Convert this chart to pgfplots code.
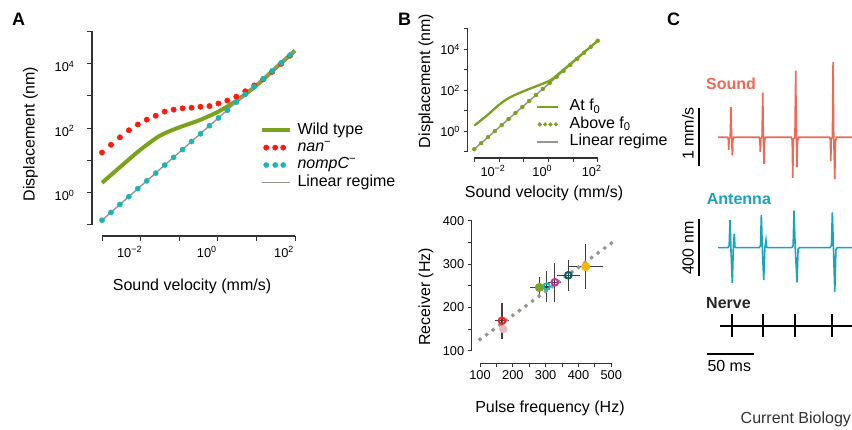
\documentclass[border=0pt]{standalone}
\usepackage{fontspec}
\setmainfont{Liberation Sans}
\setsansfont{Liberation Sans}
\usepackage{pgfplots}
\pgfplotsset{compat=1.18}
\definecolor{wtgreen}{HTML}{7BA21C}
\definecolor{nanred}{HTML}{FF1A0A}
\definecolor{nompcyan}{HTML}{1DB5B3}
\definecolor{lingray}{HTML}{9A948E}
\definecolor{spinec}{HTML}{333333}
\definecolor{soundc}{HTML}{EE6855}
\definecolor{antc}{HTML}{1AA3BE}
\definecolor{ebar}{HTML}{404040}
\definecolor{pred}{HTML}{FF1E1E}
\definecolor{ppink}{HTML}{EBB8C3}
\definecolor{pgreen}{HTML}{7DA320}
\definecolor{pcyan}{HTML}{1AB8C4}
\definecolor{pmag}{HTML}{C0339D}
\definecolor{pteal}{HTML}{0B5B6B}
\definecolor{porange}{HTML}{FFB400}
\newcommand{\lab}{\fontsize{16}{18}\selectfont}
\newcommand{\tck}{\fontsize{12.8}{14}\selectfont}

\pgfplotsset{
  panel/.style={
    scale only axis, axis lines=left, clip=false,
    x axis line style={-}, y axis line style={-},
    axis line style={spinec, line width=1.1pt},
    tick align=outside, major tick length=5pt,
    every tick/.style={spinec, line width=0.9pt},
    minor tick style={draw=none},
    tick label style={font=\tck},
    /pgf/number format/assume math mode=true,
  },
  trace/.style={scale only axis, hide axis, clip=false, xmin=-25, xmax=141.6},
}

\begin{document}
\begin{tikzpicture}[x=1pt,y=1pt]

% ---------- A ----------
\begin{axis}[panel, at={(102pt,205.25pt)}, anchor=south west, width=193pt, height=193.5pt,
  xmode=log, ymode=log, xmin=1e-3, xmax=100, ymin=0.1, ymax=1e5,
  axis x line shift=11.25pt, axis y line shift=10pt,
  xtick={1e-3,1e-2,1e-1,1,10,100},
  xticklabels={,10\textsuperscript{−2},,10\textsuperscript{0},,10\textsuperscript{2}},
  ytick={0.1,1,10,100,1000,10000,100000},
  yticklabels={,10\textsuperscript{0},,10\textsuperscript{2},,10\textsuperscript{4},},
  xticklabel style={xshift=-11pt, yshift=-2pt},
  yticklabel style={xshift=-9pt, yshift=-3pt},
  xlabel={Sound velocity (mm/s)}, ylabel={Displacement (nm)},
  every axis x label/.style={at={(axis description cs:0.5,0)}, anchor=center, xshift=-6.5pt, yshift=-61.25pt, font=\lab},
  every axis y label/.style={at={(axis description cs:0,0.5)}, anchor=center, xshift=-71.5pt, yshift=-6pt, rotate=90, font=\lab},
  legend style={at={(axis description cs:0.8187,0.531)}, anchor=north west, draw=none, fill=none,
    inner sep=0pt, row sep=1.4pt, column sep=5.3pt, font=\lab,
    nodes={inner sep=0pt, text height=12pt, text depth=4pt}, cells={anchor=west}},
]
\addlegendimage{legend image code/.code={\draw[wtgreen,line width=4pt] (0pt,0pt)--(28pt,0pt);}}
\addlegendentry{Wild type}
\addlegendimage{legend image code/.code={\foreach \d in {4,13,21} \fill[nanred] (\d pt,0pt) circle (2.7pt);}}
\addlegendentry{\textit{nan}\textsuperscript{−}}
\addlegendimage{legend image code/.code={\foreach \d in {4,13,21} \fill[nompcyan] (\d pt,0pt) circle (2.6pt);}}
\addlegendentry{\textit{nompC}\textsuperscript{−}}
\addlegendimage{legend image code/.code={\draw[lingray,line width=1.4pt] (0pt,0pt)--(28pt,0pt);}}
\addlegendentry{Linear regime}

\addplot[forget plot, only marks, mark=*, mark size=2.7pt, color=nanred] coordinates {
(1.000e-3,17.38) (1.706e-3,30.20) (2.911e-3,51.29) (4.966e-3,85.11) (8.472e-3,128.8)
(1.445e-2,182.0) (2.466e-2,239.9) (4.207e-2,323.6) (7.178e-2,371.5) (0.1225,407.4)
(0.2089,426.6) (0.3565,457.1) (0.6081,478.6) (1.038,575.4) (1.770,707.9) (3.020,933.3)
(5.152,1380) (8.790,2089) (15.00,3236) (25.59,5495) (43.65,9772) (74.47,17378)};
\addplot[forget plot, smooth, wtgreen, line width=4pt] coordinates {
(1e-3,1.995) (3.162e-3,6.607) (1e-2,21.38) (3.162e-2,57.54) (0.1,104.7) (0.3162,169.8)
(1,316.2) (3.162,724.4) (10,2089) (31.62,7244) (100,25119)};
\addplot[forget plot, lingray, line width=1.4pt] coordinates {(1e-3,0.138) (100,25119)};
\addplot[forget plot, only marks, mark=*, mark size=2.6pt, color=nompcyan] coordinates {
(1.000e-3,0.138) (1.706e-3,0.240) (2.911e-3,0.427) (4.966e-3,0.741) (8.472e-3,1.318)
(1.445e-2,2.291) (2.466e-2,3.981) (4.207e-2,7.079) (7.178e-2,12.30) (0.1225,21.38)
(0.2089,38.02) (0.3565,66.07) (0.6081,117.5) (1.038,204.2) (1.770,354.8) (3.020,631.0)
(5.152,1096) (8.790,1905) (15.00,3388) (25.59,5888) (43.65,10471) (74.47,18197)};
\end{axis}

% ---------- B top ----------
\begin{axis}[panel, at={(474.3pt,278.2pt)}, anchor=south west, width=123.4pt, height=122.85pt,
  xmode=log, ymode=log, xmin=1e-3, xmax=100, ymin=0.1, ymax=1e5,
  axis x line shift=6.2pt, axis y line shift=6.8pt, major tick length=4pt,
  xtick={1e-3,1e-2,1e-1,1,10,100},
  xticklabels={,10\textsuperscript{−2},,10\textsuperscript{0},,10\textsuperscript{2}},
  ytick={0.1,1,10,100,1000,10000,100000},
  yticklabels={,10\textsuperscript{0},,10\textsuperscript{2},,10\textsuperscript{4},},
  xticklabel style={xshift=-6pt},
  xlabel={Sound velocity (mm/s)}, ylabel={Displacement (nm)},
  every axis x label/.style={at={(axis description cs:0.5,0)}, anchor=center, xshift=8pt, yshift=-41.5pt, font=\lab},
  every axis y label/.style={at={(axis description cs:0,0.5)}, anchor=center, xshift=-48.3pt, yshift=9.4pt, rotate=90, font=\lab},
  legend style={at={(axis description cs:0.5,0.4322)}, anchor=north west, draw=none, fill=none,
    inner sep=0pt, row sep=1.5pt, column sep=10.3pt, font=\lab,
    nodes={inner sep=0pt, text height=12pt, text depth=4pt}, cells={anchor=west}},
]
\addlegendimage{legend image code/.code={\draw[wtgreen,line width=2.3pt] (0pt,0pt)--(20.7pt,0pt);}}
\addlegendentry{At f\textsubscript{0}}
\addlegendimage{legend image code/.code={\foreach \d in {2.3,7.7,13,18.4} \fill[wtgreen] (\d pt,0pt) circle (1.9pt);}}
\addlegendentry{Above f\textsubscript{0}}
\addlegendimage{legend image code/.code={\draw[lingray,line width=2.5pt] (0pt,0pt)--(20.7pt,0pt);}}
\addlegendentry{Linear regime}

\addplot[forget plot, lingray, line width=1.5pt] coordinates {(1e-3,0.1349) (100,26303)};
\addplot[forget plot, smooth, wtgreen, line width=2.3pt] coordinates {
(1e-3,1.905) (3.236e-3,5.888) (5.888e-3,11.22) (1.148e-2,22.39) (2.042e-2,36.31)
(3.981e-2,56.23) (0.1380,107.2) (0.4786,190.5) (1.202,309.0) (2.239,549.5)
(8.128,2042) (100,26303)};
\addplot[forget plot, only marks, mark=*, mark size=2pt, color=wtgreen] coordinates {
(1e-3,0.1349) (1.896e-3,0.2654) (3.594e-3,0.5222) (6.813e-3,1.027) (1.292e-2,2.021)
(2.448e-2,3.977) (4.642e-2,7.824) (8.799e-2,15.39) (0.1668,30.29) (0.3162,59.59)
(0.5995,117.2) (1.136,230.7) (2.154,453.8) (4.084,892.9) (7.743,1757) (14.68,3456)
(27.83,6800) (52.75,13379) (100,26303)};
\end{axis}

% ---------- B bottom ----------
\begin{axis}[panel, at={(480pt,79.3pt)}, anchor=south west, width=131.3pt, height=130pt,
  xmin=100, xmax=500, ymin=100, ymax=400,
  axis x line shift=12.6pt, axis y line shift=8.3pt, major tick length=4pt,
  xtick={100,150,...,500}, xticklabels={100,,200,,300,,400,,500},
  ytick={100,150,...,400}, yticklabels={100,,200,,300,,400},
  xlabel={Pulse frequency (Hz)}, ylabel={Receiver (Hz)},
  every axis x label/.style={at={(axis description cs:0.5,0)}, anchor=center, xshift=4.3pt, yshift=-57.8pt, font=\lab},
  every axis y label/.style={at={(axis description cs:0,0.5)}, anchor=center, xshift=-54pt, yshift=-11pt, rotate=90, font=\lab},
  error bars/error bar style={ebar, line width=1.2pt},
  error bars/error mark=none,
]
\addplot[only marks, mark=*, mark size=1.9pt, color=lingray] coordinates {
(100,126.0) (120,137.1) (140,148.2) (160,159.3) (180,170.4) (200,181.5) (220,192.6)
(240,203.7) (260,214.8) (280,225.9) (300,237.0) (320,248.1) (340,259.2) (360,270.3)
(380,281.4) (400,292.5) (420,303.6) (440,314.7) (460,325.8) (480,336.9) (500,348.0)};
\addplot[only marks, mark=*, mark size=4pt, color=ppink] coordinates {(171,150)};
\addplot[only marks, mark=o, mark size=3.3pt, color=pred, mark options={line width=2pt},
  error bars/.cd, x dir=both, x explicit, y dir=both, y explicit]
  coordinates {(167,169) +- (22,41)};
\addplot[only marks, mark=*, mark size=4.3pt, color=pgreen,
  error bars/.cd, x dir=both, x explicit, y dir=both, y explicit]
  coordinates {(281,246) +- (30,25)};
\addplot[only marks, mark=o, mark size=3.3pt, color=pcyan, mark options={line width=2pt},
  error bars/.cd, x dir=both, x explicit, y dir=both, y explicit]
  coordinates {(303,248) +- (20,35)};
\addplot[only marks, mark=o, mark size=3.3pt, color=pmag, mark options={line width=2pt},
  error bars/.cd, x dir=both, x explicit, y dir=both, y explicit]
  coordinates {(328,258) +- (20,45)};
\addplot[only marks, mark=o, mark size=3.3pt, color=pteal, mark options={line width=2pt},
  error bars/.cd, x dir=both, x explicit, y dir=both, y explicit]
  coordinates {(369,274) +- (35,36)};
\addplot[only marks, mark=*, mark size=4.3pt, color=porange,
  error bars/.cd, x dir=both, x explicit, y dir=both, y explicit]
  coordinates {(422,294) +- (53,52)};
\end{axis}

% ---------- C ----------
\begin{axis}[trace, at={(694.35pt,234.7pt)}, anchor=south west, width=157.65pt, height=145pt, ymin=-1, ymax=1.5]
\addplot[soundc, line width=1.6pt] coordinates {
(0,0) (10.0,0) (10.9,-0.04) (11.3,-0.22) (11.8,-0.02) (12.9,0) (13.7,0.52) (14.4,0) (15.1,-0.31) (15.6,-0.06) (16.6,0)
(43.4,0) (44.2,-0.04) (44.7,-0.25) (45.2,-0.02) (46.5,0) (47.3,0.77) (47.9,0) (48.6,-0.46) (49.1,-0.07) (50.1,0)
(77.5,0) (78.4,-0.05) (79.0,-0.70) (79.6,-0.03) (81.3,0) (82.1,1.15) (82.8,0) (83.5,-0.52) (84.0,-0.07) (85.0,0)
(117.8,0) (118.7,-0.04) (119.2,-0.41) (119.7,-0.02) (120.9,0) (121.6,1.30) (122.3,0) (123.4,-0.72) (124.0,-0.08) (125.2,0)
(142,0)};
\draw[black, line width=2pt] (axis cs:-19.8,-0.495) -- (axis cs:-19.8,0.505);
\end{axis}

\begin{axis}[trace, at={(694.35pt,125.3pt)}, anchor=south west, width=157.65pt, height=114pt, ymin=-400, ymax=400]
\addplot[antc, line width=1.6pt] coordinates {
(0,0) (10.5,0) (11.8,15) (12.7,194) (13.6,0) (15.1,-246) (16.2,0) (17.2,96) (17.9,5) (18.8,0)
(43.5,0) (44.9,15) (45.8,229) (46.8,0) (48.3,-227) (49.5,0) (50.7,54) (51.4,4) (52.3,0)
(77.8,0) (79.4,15) (80.3,260) (81.6,0) (83.5,-243) (84.6,-10) (86.0,0)
(118.3,0) (119.9,15) (120.8,248) (122.0,0) (123.4,-309) (124.6,-12) (126.0,0) (142,0)};
\draw[black, line width=2pt] (axis cs:-19.8,-199) -- (axis cs:-19.8,201);
\end{axis}

\begin{axis}[trace, at={(694.35pt,84.3pt)}, anchor=south west, width=157.65pt, height=40pt, ymin=-20, ymax=20]
\addplot[black, line width=2pt] coordinates {(2.1,0) (142,0)};
\addplot[only marks, mark=|, mark size=11.65pt, mark options={line width=2pt}, black]
  coordinates {(14.5,0) (47.3,0) (81.4,0) (120.8,0)};
\draw[black, line width=1.8pt] (axis cs:-11.9,-28.6) -- (axis cs:38.1,-28.6);
\end{axis}

% ---------- text ----------
\node[anchor=base west, inner sep=0pt, font=\bfseries\fontsize{18}{20}\selectfont] at (12,404) {A};
\node[anchor=base west, inner sep=0pt, font=\bfseries\fontsize{18}{20}\selectfont] at (398,404) {B};
\node[anchor=base west, inner sep=0pt, font=\bfseries\fontsize{18}{20}\selectfont] at (667,404) {C};
\node[anchor=base west, inner sep=0pt, font=\bfseries\lab, text=soundc] at (706,340) {Sound};
\node[anchor=base west, inner sep=0pt, font=\bfseries\lab, text=antc] at (706.7,225) {Antenna};
\node[anchor=base west, inner sep=0pt, font=\bfseries\lab, text=black!85] at (706,121) {Nerve};
\node[rotate=90, anchor=base, inner sep=0pt, font=\lab] at (693.5,296.3) {1 mm/s};
\node[rotate=90, anchor=base, inner sep=0pt, font=\lab] at (693.5,181.7) {400 nm};
\node[anchor=base, inner sep=0pt, font=\lab] at (729.3,58.3) {50 ms};
\node[anchor=base west, inner sep=0pt, font=\lab, text=black!80] at (740.5,6) {Current Biology};

\pgfresetboundingbox
\useasboundingbox (0,0) rectangle (852,430);
\end{tikzpicture}
\end{document}
